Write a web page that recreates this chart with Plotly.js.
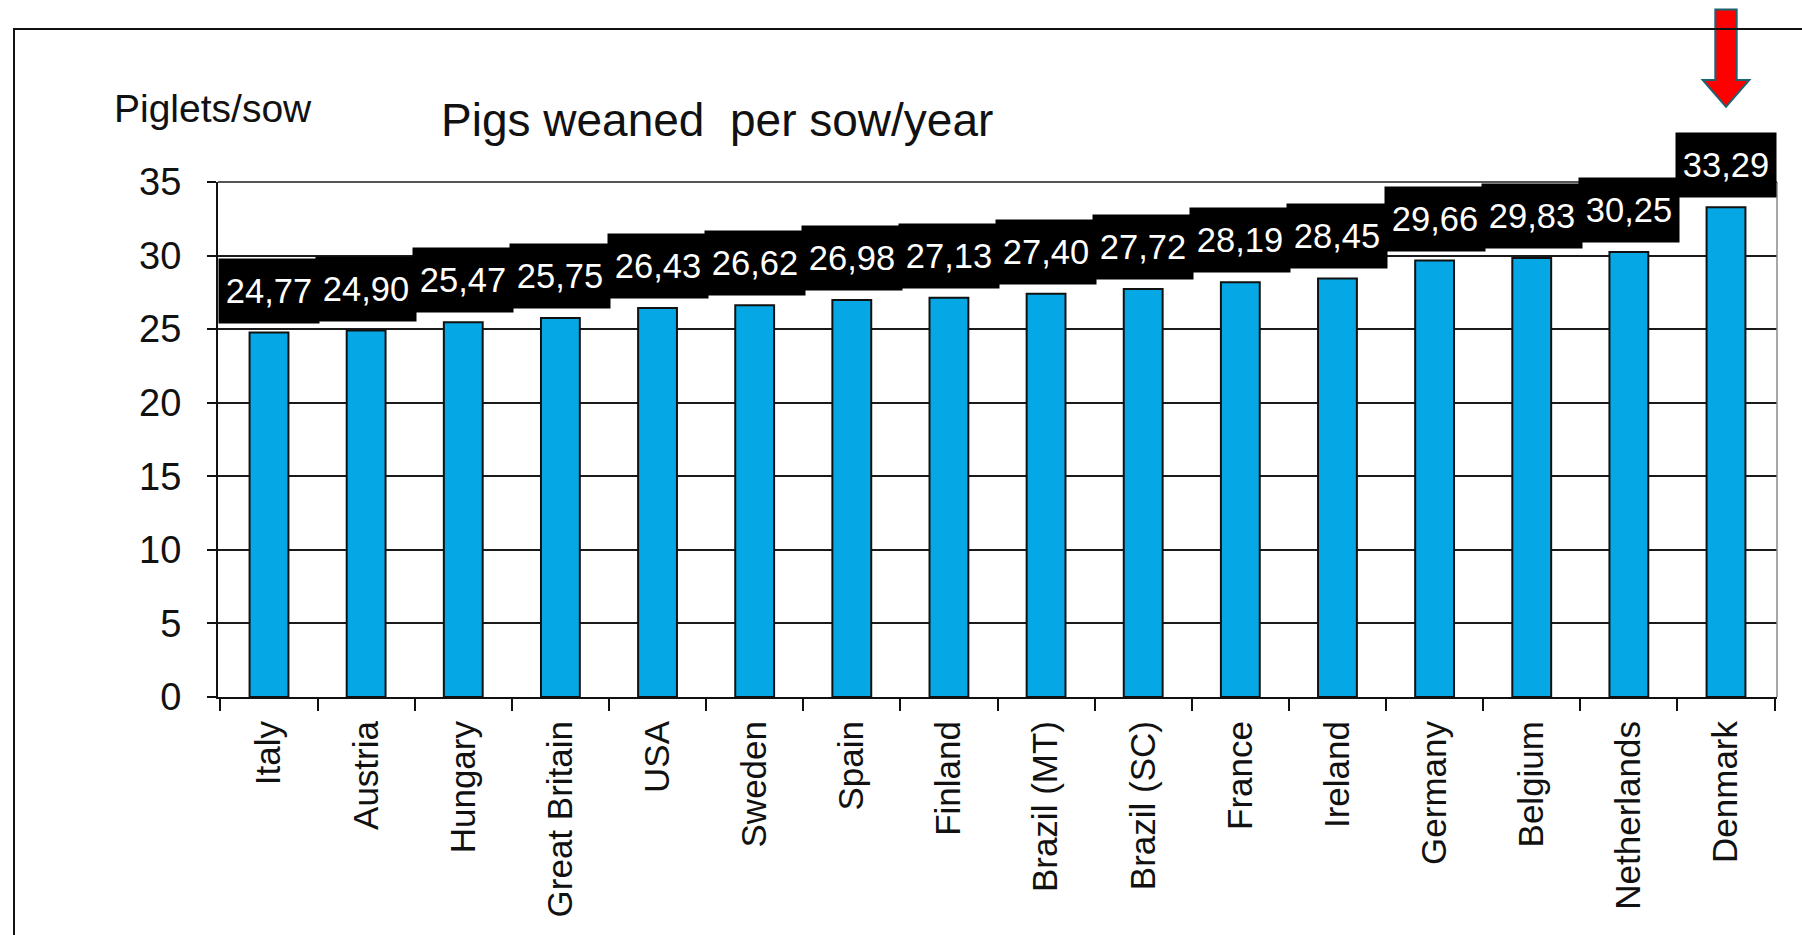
<!DOCTYPE html>
<html>
<head>
<meta charset="utf-8">
<script src="https://cdn.plot.ly/plotly-3.0.1.min.js"></script>
<style>
  html, body { margin: 0; padding: 0; background: #ffffff; }
  #chart { width: 1802px; height: 935px; position: absolute; left: 0; top: 0; }
  #frame { position: absolute; left: 13px; top: 28px; width: 1800px; height: 920px;
           border-top: 2px solid #111; border-left: 2px solid #111; pointer-events: none; }
</style>
</head>
<body>
<div id="chart"></div>
<div id="frame"></div>
<script>
const categories = ["Italy", "Austria", "Hungary", "Great Britain", "USA", "Sweden", "Spain",
  "Finland", "Brazil (MT)", "Brazil (SC)", "France", "Ireland", "Germany", "Belgium",
  "Netherlands", "Denmark"];
const pigletsPerSow = [24.77, 24.90, 25.47, 25.75, 26.43, 26.62, 26.98, 27.13, 27.40,
  27.72, 28.19, 28.45, 29.66, 29.83, 30.25, 33.29];
const valueLabels = ["24,77", "24,90", "25,47", "25,75", "26,43", "26,62", "26,98", "27,13",
  "27,40", "27,72", "28,19", "28,45", "29,66", "29,83", "30,25", "33,29"];
const yTicks = [0, 5, 10, 15, 20, 25, 30, 35];
const chartTitle = "Pigs weaned  per sow/year";
const yUnit = "Piglets/sow";
const highlighted = "Denmark";

const FONT = "Liberation Sans, Arial, Helvetica, sans-serif";

const trace = {
  type: "bar",
  x: categories,
  y: pigletsPerSow,
  marker: { color: "#05a8e4", line: { color: "#111111", width: 2 } },
  hoverinfo: "x+y"
};

const labelAnnotations = categories.map((c, i) => ({
  x: c, y: pigletsPerSow[i], xref: "x", yref: "y",
  text: valueLabels[i], showarrow: false,
  yanchor: "bottom", yshift: 9,
  bgcolor: "#000000", width: 98, height: 62, borderpad: 1,
  font: { family: FONT, size: 34.5, color: "#ffffff" }
}));

const hi = categories.indexOf(highlighted);
const arrowPath = [
  `M ${hi - 0.11} 1.335`, `L ${hi + 0.11} 1.335`, `L ${hi + 0.11} 1.198`,
  `L ${hi + 0.24} 1.198`, `L ${hi} 1.146`, `L ${hi - 0.24} 1.198`,
  `L ${hi - 0.11} 1.198`, "Z"
].join(" ");

const layout = {
  width: 1802, height: 935,
  margin: { l: 218, r: 25, t: 182, b: 238 },
  paper_bgcolor: "#ffffff", plot_bgcolor: "#ffffff",
  showlegend: false,
  bargap: 0.6,
  font: { family: FONT, color: "#111111" },
  title: {
    text: chartTitle, xref: "container", yref: "container",
    x: 0.398, xanchor: "center", y: 0.872, yanchor: "middle",
    font: { family: FONT, size: 46, color: "#111111" }
  },
  xaxis: {
    type: "category",
    tickangle: -90,
    tickfont: { family: FONT, size: 35, color: "#111111" },
    ticks: "outside", tickson: "boundaries", ticklen: 12, tickwidth: 2, tickcolor: "#111",
    ticklabelstandoff: 8,
    showline: true, linecolor: "#111", linewidth: 2,
    showgrid: false, zeroline: false
  },
  yaxis: {
    range: [0, 35], tickvals: yTicks, ticktext: yTicks.map(String),
    tickfont: { family: FONT, size: 38, color: "#111111" },
    ticks: "outside", ticklen: 9, tickwidth: 2, tickcolor: "#111",
    ticklabelstandoff: 18,
    showline: true, linecolor: "#111", linewidth: 2,
    showgrid: true, gridcolor: "#1a1a1a", gridwidth: 1.5,
    zeroline: false
  },
  annotations: [
    {
      text: yUnit, xref: "paper", yref: "paper", x: -0.003, y: 1.142,
      xanchor: "center", yanchor: "middle", showarrow: false,
      font: { family: FONT, size: 39, color: "#111111" }
    },
    ...labelAnnotations
  ],
  shapes: [
    { type: "line", xref: "paper", yref: "paper", x0: 1, x1: 1, y0: 0, y1: 1,
      line: { color: "#8a8a8a", width: 1.5 } },
    { type: "line", xref: "paper", yref: "paper", x0: 0, x1: 1, y0: 1, y1: 1,
      line: { color: "#555555", width: 2 } },
    { type: "path", xref: "x", yref: "paper", path: arrowPath,
      fillcolor: "#ff0000", line: { color: "#1d6470", width: 2 } }
  ]
};

Plotly.newPlot("chart", [trace], layout, { displayModeBar: false, responsive: false });
</script>
</body>
</html>
